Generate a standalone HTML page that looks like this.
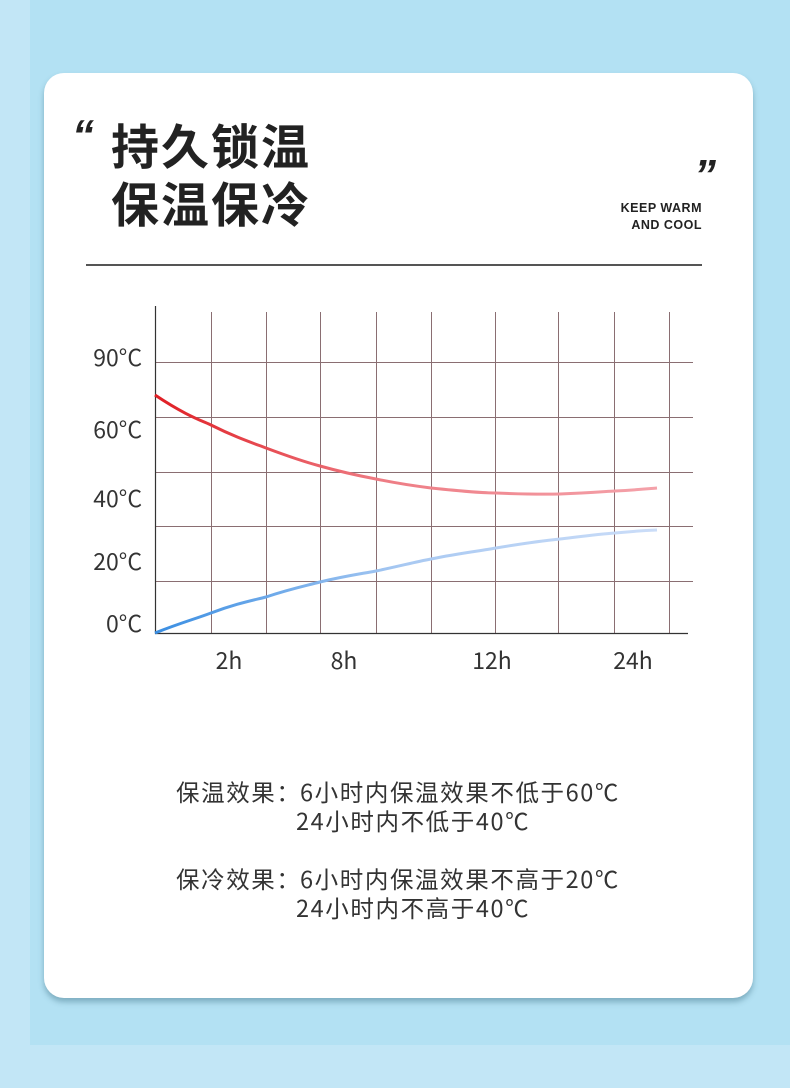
<!DOCTYPE html>
<html><head><meta charset="utf-8"><style>
html,body{margin:0;padding:0}
body{width:790px;height:1088px;position:relative;overflow:hidden;background:#c2e6f6;font-family:"Liberation Sans","Noto Sans CJK SC",sans-serif}
.main{position:absolute;left:30px;top:0;width:760px;height:1045px;background:#b3e1f3}
.card{position:absolute;left:44px;top:73px;width:709px;height:925px;background:#fff;border-radius:20px;box-shadow:0 4px 6px rgba(60,110,130,.45)}
.t{position:absolute;color:#222;font-weight:bold;font-size:48px;line-height:58px;left:111px;top:120px;letter-spacing:2px}
.q{position:absolute;font-size:44px;font-weight:bold;font-style:italic;color:#222;line-height:1}
.en{position:absolute;right:88px;top:200px;text-align:right;font-size:12.5px;font-weight:bold;color:#222;line-height:17px;letter-spacing:.5px}
.hr{position:absolute;left:86px;top:264px;width:616px;height:1.5px;background:#555}
.txt{position:absolute;font-family:"Noto Sans CJK SC",sans-serif;font-size:23.5px;letter-spacing:1.6px;color:#333;line-height:29px;white-space:pre}
</style></head><body>
<div class="main"></div>
<div class="card"></div>
<div class="q" style="left:72px;top:114px">“</div>
<div class="q" style="left:694px;top:154px">”</div>
<div class="t">持久锁温<br>保温保冷</div>
<div class="en">KEEP WARM<br>AND COOL</div>
<div class="hr"></div>
<svg style="position:absolute;left:0;top:0" width="790" height="1088">
<defs>
<linearGradient id="r" x1="155" x2="657" y1="0" y2="0" gradientUnits="userSpaceOnUse"><stop offset="0" stop-color="#e01e24"/><stop offset="0.45" stop-color="#ee7c84"/><stop offset="1" stop-color="#f4a2aa"/></linearGradient>
<linearGradient id="b" x1="155" x2="657" y1="0" y2="0" gradientUnits="userSpaceOnUse"><stop offset="0" stop-color="#3a8ee2"/><stop offset="0.5" stop-color="#a9c9f2"/><stop offset="1" stop-color="#cbddf8"/></linearGradient>
</defs>
<g stroke="#8a6e72" stroke-width="1">
<line x1="211.5" y1="312" x2="211.5" y2="633"/><line x1="266.5" y1="312" x2="266.5" y2="633"/><line x1="320.5" y1="312" x2="320.5" y2="633"/><line x1="376.5" y1="312" x2="376.5" y2="633"/><line x1="431.5" y1="312" x2="431.5" y2="633"/><line x1="495.5" y1="312" x2="495.5" y2="633"/><line x1="558.5" y1="312" x2="558.5" y2="633"/><line x1="614.5" y1="312" x2="614.5" y2="633"/><line x1="669.5" y1="312" x2="669.5" y2="633"/>
<line x1="155" y1="362.5" x2="693" y2="362.5"/><line x1="155" y1="417.5" x2="693" y2="417.5"/><line x1="155" y1="472.5" x2="693" y2="472.5"/><line x1="155" y1="526.5" x2="693" y2="526.5"/><line x1="155" y1="581.5" x2="693" y2="581.5"/>
</g>
<line x1="155.5" y1="306" x2="155.5" y2="634" stroke="#333" stroke-width="1.2"/>
<line x1="155" y1="633.5" x2="688" y2="633.5" stroke="#333" stroke-width="1.2"/>
<path d="M155,395 C185,415 200,420 211,425 C235,437 250,442 266,448 C290,457 305,462 320,466 C345,473 360,476 376,479 C400,484 415,486 431,488 C460,491 480,493 496,493 C520,494 540,494.5 560,494 C590,493 605,491.5 615,491 C635,490 645,489 657,488" fill="none" stroke="url(#r)" stroke-width="3"/>
<path d="M155,633 C180,623 195,619 211,613 C235,604 250,601 266,597 C290,589 305,586 320,582 C345,576 360,574 376,571 C400,566 415,562 431,559 C460,553 480,551 496,548 C520,544 540,541 560,539 C585,536 600,534 615,533 C635,531 645,530.5 657,530" fill="none" stroke="url(#b)" stroke-width="3"/>
<g font-family="Noto Sans CJK SC, sans-serif" font-size="23" fill="#333" text-anchor="end">
<text x="142" y="366">90°C</text><text x="142" y="438">60°C</text><text x="142" y="507">40°C</text><text x="142" y="570">20°C</text><text x="142" y="632">0°C</text>
</g>
<g font-family="Noto Sans CJK SC, sans-serif" font-size="23" fill="#333" text-anchor="middle">
<text x="229" y="669">2h</text><text x="344" y="669">8h</text><text x="492" y="669">12h</text><text x="633" y="669">24h</text>
</g>
</svg>
<div class="txt" style="left:176px;top:777px">保温效果：<span style="position:absolute;left:124px">6小时内保温效果不低于60℃</span></div>
<div class="txt" style="left:296px;top:806px">24小时内不低于40℃</div>
<div class="txt" style="left:176px;top:864px">保冷效果：<span style="position:absolute;left:124px">6小时内保温效果不高于20℃</span></div>
<div class="txt" style="left:296px;top:893px">24小时内不高于40℃</div>
</body></html>
